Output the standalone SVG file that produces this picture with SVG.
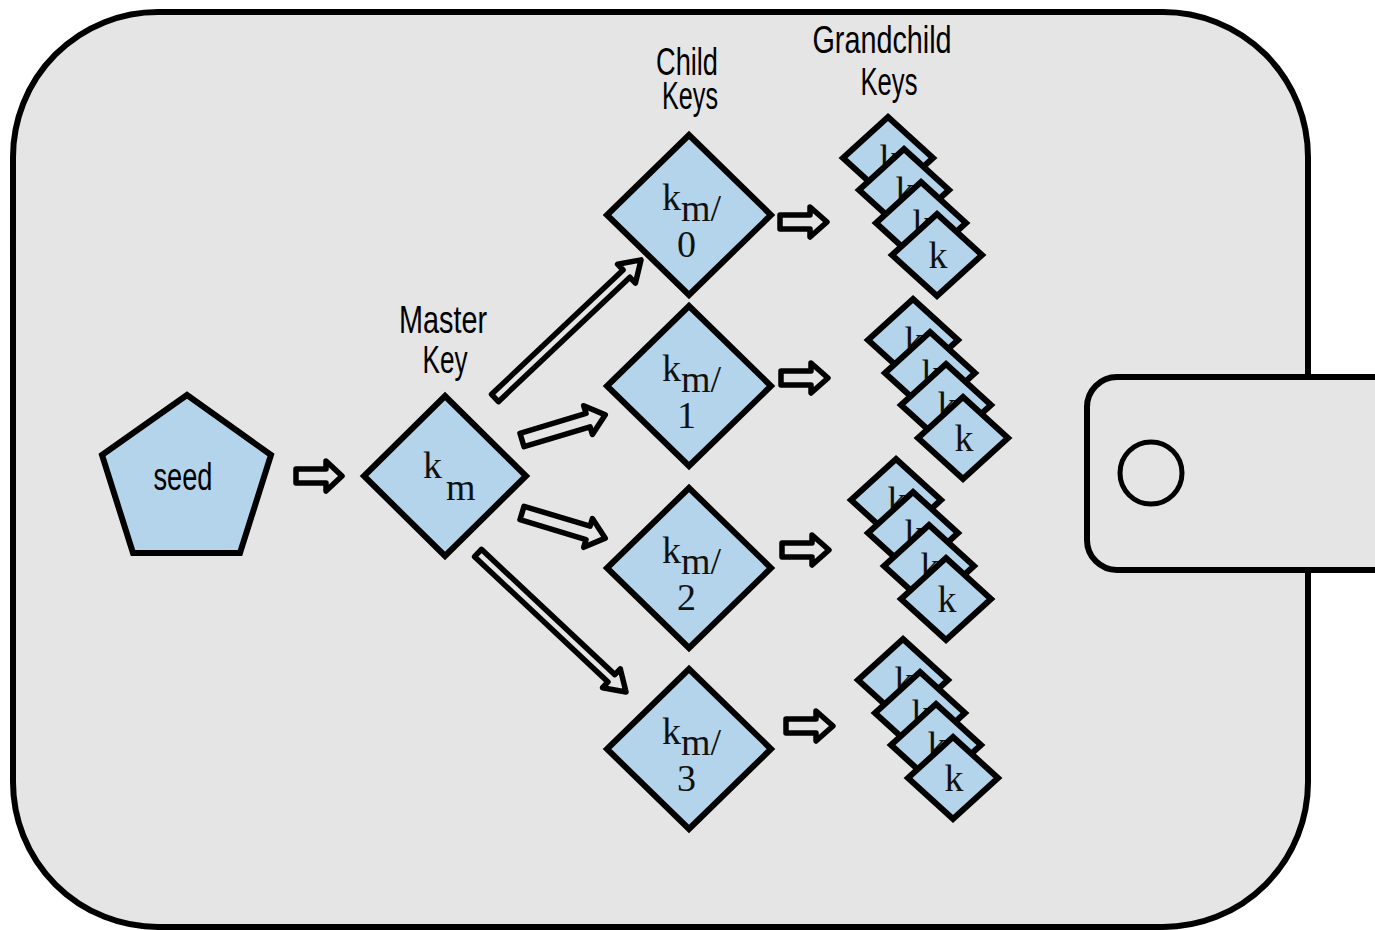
<svg xmlns="http://www.w3.org/2000/svg" xmlns:xlink="http://www.w3.org/1999/xlink" width="1375" height="930" viewBox="0 0 1375 930">
<style>
.wall{fill:#e5e5e5;stroke:#000;stroke-width:6}
.node{fill:#b3d4ea;stroke:#000;stroke-width:6;stroke-linejoin:miter}
.arr{fill:#e5e5e5;stroke:#000;stroke-width:5.5;stroke-linejoin:round}
.lbl{font-family:"Liberation Sans Narrow","Liberation Sans",Arial,sans-serif;font-stretch:condensed;font-size:38px;fill:#000;text-anchor:middle}
.ser{font-family:"Liberation Serif","Times New Roman",serif;font-size:38px;fill:#111}
</style>
<defs>
<g id="gk">
<polygon class="node" points="0,-41 45,0 0,41 -45,0"/>
<text class="ser" x="1" y="13" text-anchor="middle">k</text>
</g>
</defs>
<rect width="1375" height="930" fill="#fff"/>
<g id="wallet">
<rect class="wall" x="13" y="12" width="1295" height="915" rx="145" ry="145"/>
</g>
<g id="clasp">
<rect class="wall" x="1087" y="377" width="320" height="193" rx="30" ry="30"/>
<circle cx="1151" cy="473" r="31" fill="none" stroke="#000" stroke-width="5"/>
</g>
<g id="seed">
<polygon class="node" points="187,395 271,455 240,553 133,553 102,455"/>
<text class="lbl" x="183" y="490" textLength="59" lengthAdjust="spacingAndGlyphs">seed</text>
</g>
<g id="master-key">
<text class="lbl" x="443" y="333" textLength="88" lengthAdjust="spacingAndGlyphs">Master</text>
<text class="lbl" x="445" y="373" textLength="45" lengthAdjust="spacingAndGlyphs">Key</text>
<polygon class="node" points="445,396 526,476 445,556 364,476"/>
<text class="ser" x="423" y="478">k<tspan x="446" y="500">m</tspan></text>
</g>
<g id="child-label">
<text class="lbl" x="687" y="75" textLength="62" lengthAdjust="spacingAndGlyphs">Child</text>
<text class="lbl" x="690" y="109" textLength="56" lengthAdjust="spacingAndGlyphs">Keys</text>
</g>
<g id="grandchild-label">
<text class="lbl" x="882" y="53" textLength="139" lengthAdjust="spacingAndGlyphs">Grandchild</text>
<text class="lbl" x="889" y="95" textLength="57" lengthAdjust="spacingAndGlyphs">Keys</text>
</g>
<g id="child-0">
<polygon class="node" points="689,135 771,215 689,295 607,215"/>
<text class="ser" x="662" y="210">k<tspan dy="11">m/</tspan><tspan x="677" y="257">0</tspan></text>
</g>
<g id="child-1">
<polygon class="node" points="689,306 771,386 689,466 607,386"/>
<text class="ser" x="662" y="381">k<tspan dy="11">m/</tspan><tspan x="677" y="428">1</tspan></text>
</g>
<g id="child-2">
<polygon class="node" points="689,488 771,568 689,648 607,568"/>
<text class="ser" x="662" y="563">k<tspan dy="11">m/</tspan><tspan x="677" y="610">2</tspan></text>
</g>
<g id="child-3">
<polygon class="node" points="689,669 771,749 689,829 607,749"/>
<text class="ser" x="662" y="744">k<tspan dy="11">m/</tspan><tspan x="677" y="791">3</tspan></text>
</g>
<g id="grandchildren-0">
<use xlink:href="#gk" href="#gk" x="888" y="158"/>
<use xlink:href="#gk" href="#gk" x="904" y="190"/>
<use xlink:href="#gk" href="#gk" x="921" y="223"/>
<use xlink:href="#gk" href="#gk" x="937" y="255"/>
</g>
<g id="grandchildren-1">
<use xlink:href="#gk" href="#gk" x="913" y="340"/>
<use xlink:href="#gk" href="#gk" x="930" y="373"/>
<use xlink:href="#gk" href="#gk" x="946" y="405"/>
<use xlink:href="#gk" href="#gk" x="963" y="438"/>
</g>
<g id="grandchildren-2">
<use xlink:href="#gk" href="#gk" x="896" y="500"/>
<use xlink:href="#gk" href="#gk" x="913" y="533"/>
<use xlink:href="#gk" href="#gk" x="929" y="566"/>
<use xlink:href="#gk" href="#gk" x="946" y="599"/>
</g>
<g id="grandchildren-3">
<use xlink:href="#gk" href="#gk" x="903" y="680"/>
<use xlink:href="#gk" href="#gk" x="920" y="713"/>
<use xlink:href="#gk" href="#gk" x="936" y="745"/>
<use xlink:href="#gk" href="#gk" x="953" y="778"/>
</g>
<g id="connectors">
<path class="arr" transform="translate(296,476)" d="M0,-7 L30,-7 L30,-15 L46,0 L30,15 L30,7 L0,7 Z"/>
<path class="arr" transform="translate(495,398) rotate(-43.4)" d="M0,-5 L181,-5 L181,-13 L201,0 L181,13 L181,5 L0,5 Z"/>
<path class="arr" transform="translate(522,440) rotate(-16.8)" d="M0,-7 L69,-7 L69,-15 L87,0 L69,15 L69,7 L0,7 Z"/>
<path class="arr" transform="translate(522,513) rotate(16.8)" d="M0,-7 L69,-7 L69,-15 L87,0 L69,15 L69,7 L0,7 Z"/>
<path class="arr" transform="translate(478,553) rotate(43.2)" d="M0,-5 L183,-5 L183,-13 L203,0 L183,13 L183,5 L0,5 Z"/>
<path class="arr" transform="translate(780,222)" d="M0,-7 L30,-7 L30,-15 L47,0 L30,15 L30,7 L0,7 Z"/>
<path class="arr" transform="translate(781,378)" d="M0,-7 L30,-7 L30,-15 L47,0 L30,15 L30,7 L0,7 Z"/>
<path class="arr" transform="translate(782,550)" d="M0,-7 L30,-7 L30,-15 L47,0 L30,15 L30,7 L0,7 Z"/>
<path class="arr" transform="translate(786,726)" d="M0,-7 L30,-7 L30,-15 L47,0 L30,15 L30,7 L0,7 Z"/>
</g>
</svg>
